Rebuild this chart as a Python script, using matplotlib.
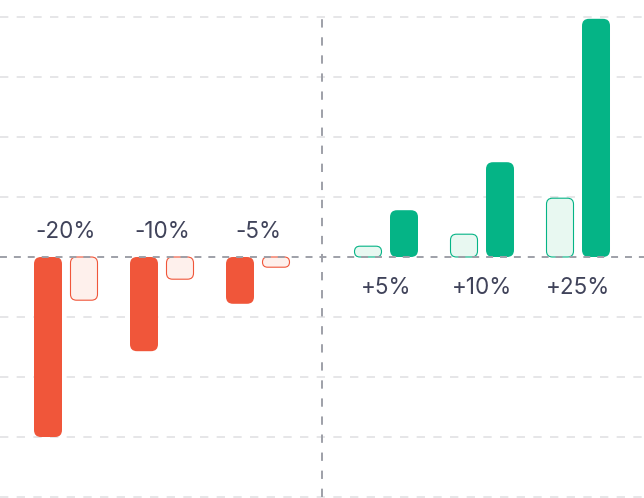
import matplotlib
matplotlib.use("Agg")
import matplotlib.pyplot as plt
from matplotlib.patches import FancyBboxPatch

plt.rcParams['font.family'] = ['Inter', 'DejaVu Sans']
plt.rcParams['lines.scale_dashes'] = False

# ---- data ----
categories = ['-20%', '-10%', '-5%', '+5%', '+10%', '+25%']
primary = [-3.0, -1.57, -0.78, 0.78, 1.58, 3.97]
secondary = [-0.72, -0.37, -0.17, 0.18, 0.38, 0.98]
grid_values = [-4, -3, -2, -1, 1, 2, 3, 4]

RED = '#F0563A'
RED_LIGHT = '#FEF0EC'
GREEN = '#05B486'
GREEN_LIGHT = '#E8F8F1'
TEXT = '#40435A'

fig = plt.figure(figsize=(6.44, 4.98), dpi=100)
ax = fig.add_axes([0, 0, 1, 1])
ax.set_xlim(-0.6875, 6.0208)
ax.set_ylim(-4.0167, 4.2833)
ax.axis('off')

# pixel scales
p0 = ax.transData.transform((0, 0))
p1 = ax.transData.transform((1, 1))
sx = p1[0] - p0[0]
sy = p1[1] - p0[1]

gap = 1 / 3.0
n_neg = sum(1 for v in primary if v < 0)
positions = [i + (gap if i >= n_neg else 0) for i in range(len(categories))]
bw = 28 / sx
off = 18 / sx
center_x = (positions[n_neg - 1] + positions[n_neg]) / 2


def rbar(xc, v, w, r_px, face, edge=None, lw=0, z=3):
    y0 = min(0, v)
    h = abs(v)
    r = min(r_px, h * sy / 2, w * sx / 2)
    p = FancyBboxPatch((xc - w / 2, y0), w, h,
                       boxstyle=f"round,pad=0,rounding_size={r / sx}",
                       mutation_aspect=sx / sy,
                       facecolor=face, edgecolor=edge if edge else 'none',
                       linewidth=lw, zorder=z)
    ax.add_patch(p)


for g in grid_values:
    ax.axhline(g, color='#E4E4E6', lw=1.3, dashes=(6, 6), zorder=1)

ax.plot([center_x, center_x], [-4, 4], color='#9EA0A8', lw=1.4,
        dashes=(6, 7), zorder=2)

for i, cat in enumerate(categories):
    x = positions[i]
    neg = primary[i] < 0
    dark, light = (RED, RED_LIGHT) if neg else (GREEN, GREEN_LIGHT)
    xd = x - off if neg else x + off
    xl = x + off if neg else x - off
    rbar(xd, primary[i], bw, 7, dark)
    rbar(xl, secondary[i], bw - 1 / sx, 6, light, edge=dark, lw=0.8)
    dy = 18.2 if neg else -22.0
    ax.annotate(cat, (x, 0), xytext=(0, dy), textcoords='offset points',
                ha='center', va='center', fontsize=16.2, color=TEXT,
                zorder=5)

ax.axhline(0, color='#9EA0A8', lw=1.4, dashes=(5, 5), zorder=4)

fig.savefig('out.png', dpi=100)
